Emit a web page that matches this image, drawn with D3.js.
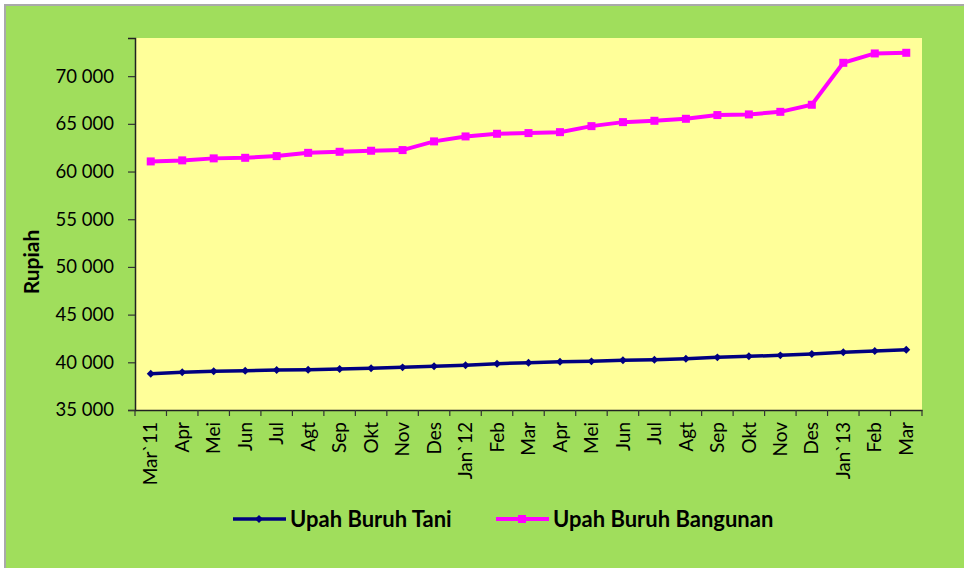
<!DOCTYPE html>
<html>
<head>
<meta charset="utf-8">
<script src="https://cdn.jsdelivr.net/npm/d3@7"></script>
<style>
  body { margin: 0; background: white; }
  svg { display: block; }
</style>
</head>
<body>
<main></main>
<script>
const months = ["Mar`11", "Apr", "Mei", "Jun", "Jul", "Agt", "Sep", "Okt", "Nov", "Des",
    "Jan`12", "Feb", "Mar", "Apr", "Mei", "Jun", "Jul", "Agt", "Sep", "Okt", "Nov", "Des",
    "Jan`13", "Feb", "Mar"]

const upahTani = [38800, 38950, 39060, 39120, 39190, 39220, 39300, 39370, 39470, 39580,
    39690, 39850, 39960, 40050, 40100, 40210, 40270, 40380, 40520, 40630, 40730, 40870,
    41050, 41180, 41320]

const upahBangunan = [61060, 61170, 61380, 61440, 61620, 61960, 62070, 62180, 62250, 63160,
    63680, 63960, 64030, 64130, 64760, 65180, 65320, 65530, 65920, 65990, 66260, 67000,
    71400, 72380, 72450]

const yTicks = [35000, 40000, 45000, 50000, 55000, 60000, 65000, 70000]

const seriesNames = ["Upah Buruh Tani", "Upah Buruh Bangunan"]

const svgWidth = 964
const svgHeight = 568

const plotLeft = 135
const plotRight = 922
const plotTop = 38
const plotBottom = 410

const font = "Lato, 'Open Sans', sans-serif"

let svg = d3.select("main")
    .append("svg")
    .attr("width", svgWidth)
    .attr("height", svgHeight)

/* background with the gray edge on left and top */
svg.append("rect")
    .attr("x", 0).attr("y", 0)
    .attr("width", svgWidth).attr("height", svgHeight)
    .attr("fill", "white")

svg.append("rect")
    .attr("x", 4).attr("y", 4)
    .attr("width", svgWidth).attr("height", svgHeight)
    .attr("fill", "#a9a9a9")

svg.append("rect")
    .attr("x", 6).attr("y", 6)
    .attr("width", svgWidth).attr("height", svgHeight)
    .attr("fill", "#a0de5c")

svg.append("rect")
    .attr("x", plotLeft).attr("y", plotTop)
    .attr("width", plotRight - plotLeft).attr("height", plotBottom - plotTop)
    .attr("fill", "#ffff99")

/* scales */
let xScale = d3.scaleBand()
    .domain(d3.range(months.length))
    .range([plotLeft, plotRight])

let yScale = d3.scaleLinear()
    .domain([35000, 74000])
    .range([plotBottom, plotTop])

const fmt = d => d3.format(",")(d).replace(",", " ")

/* y axis */
let yAxis = svg.append("g")
    .attr("transform", `translate(${plotLeft}, 0)`)
    .call(d3.axisLeft(yScale).tickValues(yTicks).tickSize(7).tickPadding(14).tickFormat(fmt))

yAxis.select("path").attr("stroke", "#222").attr("stroke-width", 1.5)
yAxis.selectAll("line").attr("stroke", "#333").attr("stroke-width", 1.2)
yAxis.selectAll("text")
    .attr("fill", "black")
    .style("font-family", font)
    .style("font-size", "18.5px")

/* x axis: ticks sit between categories */
let xAxis = svg.append("g")
    .attr("transform", `translate(0, ${plotBottom})`)
    .call(d3.axisBottom(xScale).tickSize(0).tickFormat(""))

xAxis.select("path").attr("stroke", "#222").attr("stroke-width", 1.5)

xAxis.selectAll(".sep")
    .data(d3.range(months.length + 1))
    .enter()
    .append("line")
    .attr("class", "sep")
    .attr("x1", d => plotLeft + d * xScale.bandwidth())
    .attr("x2", d => plotLeft + d * xScale.bandwidth())
    .attr("y1", 0)
    .attr("y2", 6)
    .attr("stroke", "#333")
    .attr("stroke-width", 1.2)

xAxis.selectAll(".lbl")
    .data(months)
    .enter()
    .append("text")
    .attr("class", "lbl")
    .attr("transform", (d, i) => `translate(${xScale(i) + xScale.bandwidth() / 2}, 12) rotate(-90)`)
    .attr("dy", "0.35em")
    .attr("text-anchor", "end")
    .style("font-family", font)
    .style("font-size", "19px")
    .attr("fill", "black")
    .text(d => d)

/* y axis title */
svg.append("text")
    .attr("transform", "translate(39, 262) rotate(-90)")
    .attr("text-anchor", "middle")
    .style("font-family", font)
    .style("font-size", "21px")
    .style("font-weight", "bold")
    .text("Rupiah")

/* lines */
const cx = i => xScale(i) + xScale.bandwidth() / 2

let line = d3.line()
    .x((d, i) => cx(i))
    .y(d => yScale(d))

svg.append("path")
    .datum(upahTani)
    .attr("d", line)
    .attr("fill", "none")
    .attr("stroke", "#000080")
    .attr("stroke-width", 3.5)

svg.append("path")
    .datum(upahBangunan)
    .attr("d", line)
    .attr("fill", "none")
    .attr("stroke", "#ff00ff")
    .attr("stroke-width", 4)

const diamond = d3.symbol().type(d3.symbolDiamond2).size(40)

svg.selectAll(".mTani")
    .data(upahTani)
    .enter()
    .append("path")
    .attr("class", "mTani")
    .attr("d", diamond)
    .attr("transform", (d, i) => `translate(${cx(i)}, ${yScale(d)})`)
    .attr("fill", "#000080")

svg.selectAll(".mBangunan")
    .data(upahBangunan)
    .enter()
    .append("rect")
    .attr("class", "mBangunan")
    .attr("x", (d, i) => cx(i) - 4)
    .attr("y", d => yScale(d) - 4)
    .attr("width", 8)
    .attr("height", 8)
    .attr("fill", "#ff00ff")

/* legend */
let legend = svg.append("g")
    .attr("transform", "translate(0, 519)")

const legendX = [233, 496]
const legendColors = ["#000080", "#ff00ff"]

seriesNames.forEach((name, i) => {
    let g = legend.append("g").attr("transform", `translate(${legendX[i]}, 0)`)
    g.append("line")
        .attr("x1", 0).attr("x2", 53)
        .attr("y1", 0).attr("y2", 0)
        .attr("stroke", legendColors[i])
        .attr("stroke-width", i == 0 ? 3.5 : 4)
    if (i == 0) {
        g.append("path")
            .attr("d", diamond)
            .attr("transform", "translate(26, 0)")
            .attr("fill", legendColors[i])
    } else {
        g.append("rect")
            .attr("x", 22).attr("y", -4)
            .attr("width", 8).attr("height", 8)
            .attr("fill", legendColors[i])
    }
    g.append("text")
        .attr("x", 57)
        .attr("dy", "0.35em")
        .style("font-family", font)
        .style("font-size", "22px")
        .style("font-weight", "bold")
        .text(name)
})
</script>
</body>
</html>
